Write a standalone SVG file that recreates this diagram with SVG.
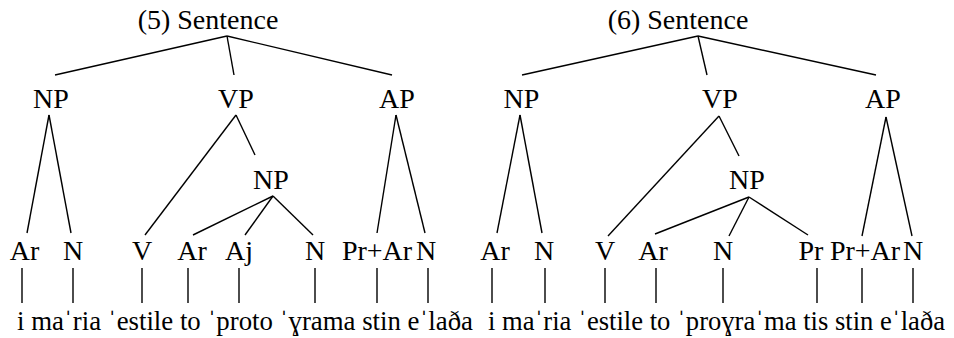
<svg xmlns="http://www.w3.org/2000/svg" width="954" height="338" viewBox="0 0 954 338">
<style>
text{font-family:'Times New Roman','Liberation Serif',serif;font-size:28px;fill:#000}
.c{text-anchor:middle}
.e line{stroke:#000;stroke-width:1.4}
</style>
<rect width="954" height="338" fill="#fff"/>
<g class="e" id="connectors">
<line x1="227" y1="36" x2="55" y2="75"/><line x1="227" y1="36" x2="234" y2="75"/><line x1="227" y1="36" x2="392" y2="75"/>
<line x1="49" y1="115" x2="27" y2="233"/><line x1="49" y1="115" x2="71" y2="233"/>
<line x1="236" y1="115" x2="145" y2="235"/><line x1="236" y1="115" x2="255" y2="155"/>
<line x1="273" y1="196" x2="193" y2="235"/><line x1="273" y1="196" x2="245" y2="235"/><line x1="273" y1="196" x2="313" y2="235"/>
<line x1="396" y1="115" x2="377" y2="233"/><line x1="396" y1="115" x2="425" y2="233"/>
<line x1="22" y1="268" x2="22" y2="303"/><line x1="73" y1="268" x2="73" y2="303"/><line x1="142" y1="268" x2="142" y2="303"/><line x1="188" y1="268" x2="188" y2="303"/><line x1="239" y1="268" x2="239" y2="303"/><line x1="315" y1="268" x2="315" y2="303"/><line x1="377" y1="268" x2="377" y2="303"/><line x1="428" y1="268" x2="428" y2="303"/>
<line x1="698" y1="36" x2="522" y2="75"/><line x1="698" y1="36" x2="707" y2="75"/><line x1="698" y1="36" x2="876" y2="75"/>
<line x1="520" y1="115" x2="497" y2="233"/><line x1="520" y1="115" x2="542" y2="233"/>
<line x1="719" y1="116" x2="608" y2="236"/><line x1="719" y1="116" x2="739" y2="156"/>
<line x1="749" y1="197" x2="655" y2="234"/><line x1="749" y1="197" x2="729" y2="236"/><line x1="749" y1="197" x2="808" y2="235"/>
<line x1="886" y1="117" x2="862" y2="236"/><line x1="886" y1="117" x2="912" y2="236"/>
<line x1="492" y1="268" x2="492" y2="303"/><line x1="545" y1="268" x2="545" y2="303"/><line x1="605" y1="268" x2="605" y2="303"/><line x1="656" y1="268" x2="656" y2="303"/><line x1="723" y1="268" x2="723" y2="303"/><line x1="817" y1="268" x2="817" y2="303"/><line x1="862" y1="268" x2="862" y2="303"/><line x1="913" y1="268" x2="913" y2="303"/>
</g>
<g id="s5"><text class="c" x="208" y="29">(5) Sentence</text></g>
<g id="np5"><text class="c" x="51" y="108">NP</text></g>
<g id="vp5"><text class="c" x="236" y="108">VP</text></g>
<g id="ap5"><text class="c" x="397" y="108">AP</text></g>
<g id="np5b"><text class="c" x="271" y="189">NP</text></g>
<g id="l5"><text class="c" x="24.5" y="260">Ar</text><text class="c" x="73" y="260">N</text><text class="c" x="142" y="260">V</text><text class="c" x="192" y="260">Ar</text><text class="c" x="239" y="260">Aj</text><text class="c" x="315" y="260">N</text><text class="c" x="377" y="260">Pr+Ar</text><text class="c" x="426" y="260">N</text></g>
<g id="w5"><text x="17" y="330" textLength="456" lengthAdjust="spacingAndGlyphs">i maˈria ˈestile to ˈproto ˈɣrama stin eˈlaða</text></g>
<g id="s6"><text class="c" x="678" y="29">(6) Sentence</text></g>
<g id="np6"><text class="c" x="521.5" y="108">NP</text></g>
<g id="vp6"><text class="c" x="720" y="108">VP</text></g>
<g id="ap6"><text class="c" x="883" y="108">AP</text></g>
<g id="np6b"><text class="c" x="747" y="189">NP</text></g>
<g id="l6"><text class="c" x="495" y="260">Ar</text><text class="c" x="544" y="260">N</text><text class="c" x="605" y="260">V</text><text class="c" x="653" y="260">Ar</text><text class="c" x="723" y="260">N</text><text class="c" x="811" y="260">Pr</text><text class="c" x="865" y="260">Pr+Ar</text><text class="c" x="913" y="260">N</text></g>
<g id="w6"><text x="488" y="330" textLength="457" lengthAdjust="spacingAndGlyphs">i maˈria ˈestile to ˈproɣraˈma tis stin eˈlaða</text></g>
</svg>
